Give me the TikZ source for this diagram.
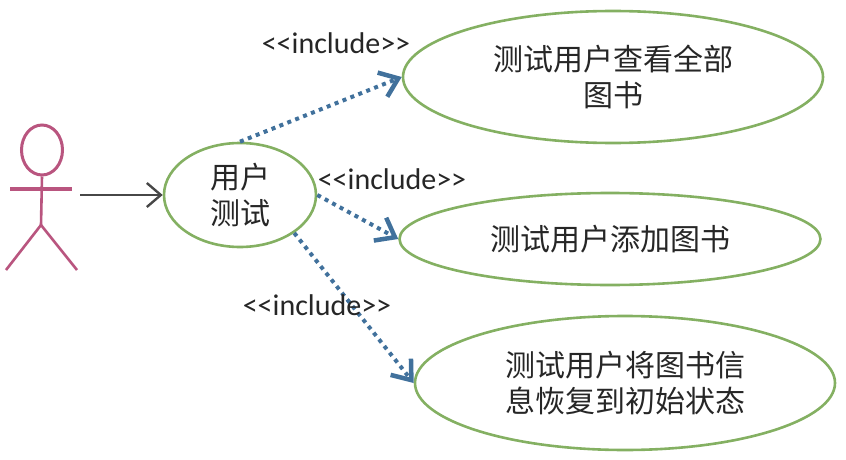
\documentclass[tikz,border=0pt]{standalone}
\usepackage{fontspec}
\setmainfont{Noto Sans CJK SC}
\newfontfamily\labelfont{Carlito}
\usetikzlibrary{shapes.geometric, arrows.meta}
\definecolor{UseGreen}{HTML}{84B062}
\definecolor{LinkBlue}{HTML}{41719C}
\definecolor{ActorPink}{HTML}{B9557F}
\definecolor{TextGrey}{HTML}{262626}
\tikzset{UseCase/.style={
    ellipse,
    inner sep=0pt,
    draw=UseGreen,
    line width=2.6pt,
    text=TextGrey,
    align=center,
    font=\fontsize{30}{36}\selectfont
    }
}
\tikzset{Include/.style={
    text=TextGrey,
    inner sep=0pt,
    font=\labelfont\fontsize{30}{34}\selectfont
    }
}
\tikzset{IncludeLink/.style={
    draw=LinkBlue,
    line width=4pt,
    dash pattern=on 4pt off 4.5pt,
    -{Straight Barb[length=17pt,width=26pt,line width=4.5pt]}
    }
}
\tikzset{ActorLine/.style={draw=ActorPink, line width=2.6pt}}

\begin{document}
\begin{tikzpicture}[x=1pt,y=-1pt]
    \useasboundingbox (0,0) rectangle (846,460);

    \node (test) [UseCase, minimum width=152pt, minimum height=104pt] at (240,195) {用户\\测试};

    \node (viewall) [UseCase, minimum width=420pt, minimum height=132pt] at (613,77) {测试用户查看全部\\图书};

    \node (addbook) [UseCase, minimum width=421pt, minimum height=92pt] at (610,239) {测试用户添加图书};

    \node (restore) [UseCase, minimum width=420pt, minimum height=134pt] at (625,383) {测试用户将图书信\\息恢复到初始状态};

    % actor
    \node (head) [ellipse, ActorLine, line width=3pt, inner sep=0pt, minimum width=41pt, minimum height=50pt] at (42,150) {};
    \coordinate (armL) at (10,189);
    \coordinate (armR) at (72,189);
    \coordinate (hip) at (41,225);
    \coordinate (legL) at (6,270);
    \coordinate (legR) at (77,270);
    \draw [ActorLine] (head.south) -- (hip);
    \draw [ActorLine, line width=4pt] (armL) -- (armR);
    \draw [ActorLine] (legL) -- (hip) -- (legR);

    \coordinate (start) at (80,195);
    \draw [draw=TextGrey!85, line width=2.4pt, -{Straight Barb[length=14pt,width=24pt,line width=2.4pt]}] (start) -- (test.west);

    \draw [IncludeLink] (test.north) -- (viewall.west);
    \draw [IncludeLink] (test.east) -- (addbook.west);
    \draw [IncludeLink] (test.-35) -- (restore.west);

    \node (inc1) [Include] at (336,43) {<{}<include>{}>};
    \node (inc2) [Include] at (392,179) {<{}<include>{}>};
    \node (inc3) [Include] at (317,305) {<{}<include>{}>};
\end{tikzpicture}
\end{document}
